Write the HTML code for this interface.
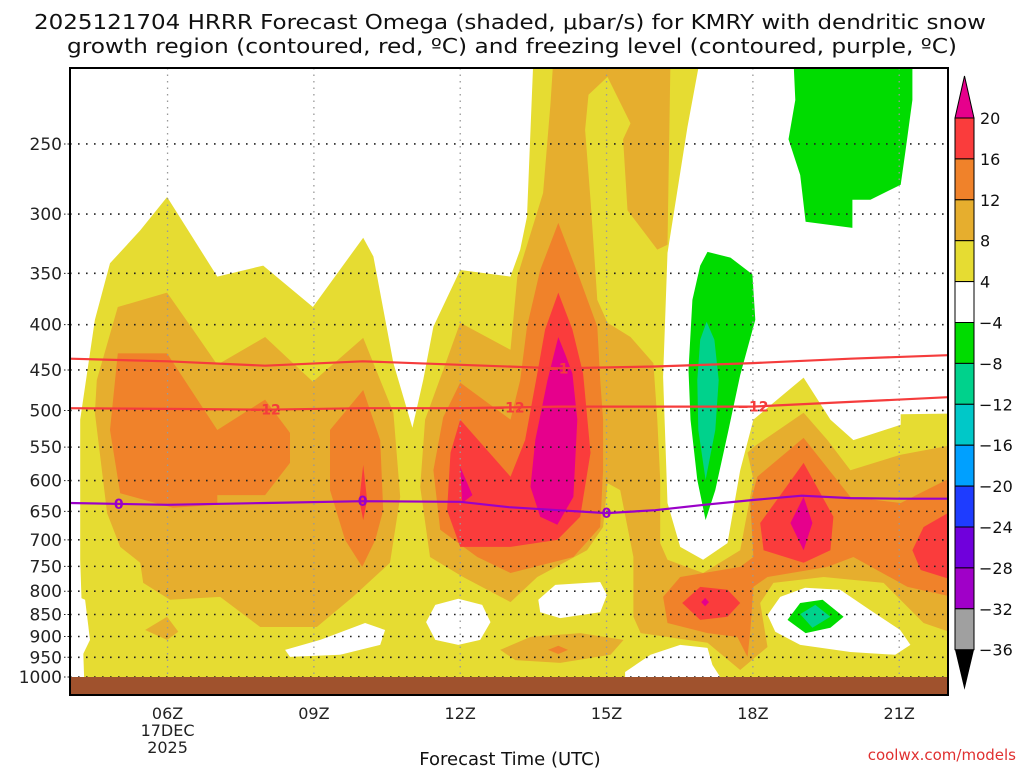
<!DOCTYPE html>
<html><head><meta charset="utf-8"><style>
html,body{margin:0;padding:0;background:#fff;}
svg{display:block;font-family:"DejaVu Sans","Liberation Sans",sans-serif;}
</style></head><body>
<svg id="chart" width="1024" height="768" viewBox="0 0 1024 768" xmlns="http://www.w3.org/2000/svg">
<defs><clipPath id="plotclip"><rect x="70" y="68" width="878" height="609"/></clipPath></defs>
<text x="510" y="29" font-size="20" text-anchor="middle" textLength="952" lengthAdjust="spacingAndGlyphs" fill="#111">2025121704 HRRR Forecast Omega (shaded, μbar/s) for KMRY with dendritic snow</text>
<text x="512" y="53" font-size="20" text-anchor="middle" textLength="890" lengthAdjust="spacingAndGlyphs" fill="#111">growth region (contoured, red, ºC) and freezing level (contoured, purple, ºC)</text>
<g id="fills" clip-path="url(#plotclip)"></g>
<g id="grid"></g>
<g id="lines" clip-path="url(#plotclip)"></g>
<rect x="70" y="677" width="878" height="17" fill="#a0522d"/>
<rect x="70" y="68" width="878" height="627" fill="none" stroke="#000" stroke-width="2"/>
<g id="yaxis"></g>
<g id="xaxis"></g>
<text x="510" y="765" font-size="18" text-anchor="middle" fill="#111">Forecast Time (UTC)</text>
<text x="1016" y="760" font-size="15" text-anchor="end" fill="#e03030">coolwx.com/models</text>
<g id="cbar"></g>
</svg>
<script>
const NS="http://www.w3.org/2000/svg";
// axes: hours 4..22, pressure log 1000..206
const hourMin=4, hourMax=22, pBottom=1000;
const yTicks=[250,300,350,400,450,500,550,600,650,700,750,800,850,900,950,1000];
const xTickHours=[6,9,12,15,18,21];
const xTickLabels=["06Z","09Z","12Z","15Z","18Z","21Z"];
const cbLevels=["20","16","12","8","4","−4","−8","−12","−16","−20","−24","−28","−32","−36"];
const cbColors=["#fa3c3c","#f0822a","#e6ae2e","#e6dc32","#ffffff","#00dc00","#00d28c","#00c8c8","#00a0ff","#1e3cff","#7000dc","#a000c8","#a0a0a0"];
const C={y:"#e6dc32",w:"#ffffff",lo:"#e6ae2e",do:"#f0822a",r:"#fa3c3c",m:"#e6008c",g:"#00dc00",t:"#00d28c",c:"#00c8c8"};
// shaded regions: [hour, hPa]
const yellowBase=[[4.29,1000],[4.21,737],[4.21,512],[4.51,395],[4.82,341],[5.44,313],[5.99,287],[7.02,353],[7.96,343],[8.98,382],[10.01,319],[10.22,335],[10.63,442],[11.02,523],[11.24,462],[11.45,402],[12.0,347],[13.03,353],[13.23,329],[13.37,302],[13.5,200],[16.92,200],[16.66,239],[16.25,332],[16.16,458],[16.25,636],[16.51,713],[16.98,737],[17.48,706],[17.74,584],[18.01,512],[19.04,459],[19.59,512],[20.06,540],[21.03,519],[21.03,505],[22.1,504],[22.1,1000]];
const whiteHoles=[
 [[8.41,932],[9.13,908],[10.05,869],[10.46,885],[10.36,920],[9.54,944],[8.51,949]],
 [[11.3,867],[11.49,829],[11.96,816],[12.45,829],[12.62,867],[12.41,908],[11.96,920],[11.49,908]],
 [[13.6,818],[13.95,787],[14.87,781],[15.01,808],[14.87,845],[14.05,858],[13.64,845]],
 [[15.38,987],[15.9,944],[16.51,920],[17.07,927],[17.17,969],[17.33,1000],[15.38,1000]],
 [[18.3,851],[18.56,812],[19.07,793],[19.79,797],[20.4,840],[21.02,885],[21.23,920],[20.92,944],[20.0,937],[18.97,920],[18.46,889]],
 [[3.9,800],[4.31,818],[4.41,908],[4.21,957],[3.9,962]]
];
const lightOrange=[
 [[4.51,503],[4.55,462],[4.98,382],[5.99,368],[6.52,405],[7.02,444],[8.0,413],[8.98,464],[10.01,414],[10.63,503],[10.77,626],[10.56,743],[9.8,812],[9.06,878],[7.9,878],[7.08,812],[6.05,818],[5.5,783],[5.44,743],[5.03,713],[4.76,653]],
 [[5.54,885],[5.99,855],[6.22,889],[5.99,908]],
 [[13.91,200],[16.31,200],[16.25,325],[16.04,329],[15.43,297],[15.34,247],[15.49,237],[15.02,210],[14.63,220],[14.56,241],[14.67,289],[14.81,375],[15.02,398],[15.49,413],[15.96,442],[16.04,512],[16.1,599],[16.1,706],[16.25,737],[16.98,763],[17.74,719],[18.01,599],[17.89,558],[18.01,550],[19.04,503],[19.53,540],[20.0,584],[21.03,561],[22.1,547],[22.1,892],[21.5,869],[20.68,783],[19.45,771],[18.42,783],[18.15,825],[18.3,925],[17.74,982],[17.07,915],[15.7,892],[15.55,855],[15.55,732],[15.28,615],[15.02,604],[14.93,677],[14.6,719],[13.58,771],[13.03,823],[12.06,771],[11.38,732],[11.18,610],[11.28,512],[11.65,450],[12.0,398],[13.03,427],[13.17,353],[13.7,284],[13.85,225]],
 [[12.82,932],[13.44,901],[14.46,892],[15.35,908],[15.08,944],[14.05,964],[13.13,957]]
];
const darkOrange=[
 [[4.98,431],[5.99,431],[7.02,526],[8.0,486],[8.51,530],[8.51,573],[8.0,623],[7.02,623],[7.02,639],[6.11,644],[5.03,620],[4.82,526]],
 [[10.01,474],[10.36,540],[10.42,648],[10.26,700],[9.99,751],[9.64,700],[9.33,615],[9.33,526]],
 [[14.01,307],[14.46,356],[14.81,402],[14.87,462],[14.93,512],[14.93,584],[14.87,677],[14.32,732],[13.03,763],[12.35,732],[11.59,682],[11.45,584],[11.65,509],[12.0,465],[13.03,512],[13.23,462],[13.37,402],[13.64,347]],
 [[19.04,537],[20.0,626],[21.03,636],[22.1,594],[22.1,812],[21.17,791],[20.06,732],[19.53,751],[18.3,771],[18.01,791],[17.95,885],[17.89,949],[17.68,901],[17.07,892],[16.25,869],[16.16,812],[16.51,771],[17.74,751],[18.01,732],[17.95,636],[18.09,594]],
 [[13.8,932],[14.01,922],[14.21,932],[14.01,942]]
];
const redAreas=[
 [[14.01,368],[14.3,405],[14.52,454],[14.67,558],[14.46,659],[13.99,700],[13.03,713],[12.0,713],[11.73,648],[11.8,558],[12.0,512],[13.03,594],[13.33,540],[13.58,454],[13.74,405]],
 [[10.01,576],[10.09,631],[10.01,665],[9.93,631]],
 [[19.04,573],[19.65,659],[19.59,719],[19.04,743],[18.22,719],[18.15,670]],
 [[22.1,648],[21.5,677],[21.27,719],[21.44,757],[22.1,777]],
 [[16.55,825],[16.92,791],[17.48,797],[17.74,825],[17.48,855],[16.92,862]]
];
const magentaAreas=[
 [[14.01,413],[14.16,433],[14.3,454],[14.4,512],[14.32,626],[13.99,673],[13.64,659],[13.44,610],[13.54,540],[13.79,462]],
 [[12.0,579],[12.25,623],[12.04,636]],
 [[19.04,626],[19.22,670],[19.04,719],[18.77,670]],
 [[16.94,823],[17.02,814],[17.1,823],[17.02,832]]
];
const greenAreas=[
 [[18.83,200],[21.27,200],[21.27,223],[21.13,254],[21.03,278],[20.41,289],[20.04,289],[20.04,311],[19.08,306],[18.97,271],[18.73,247],[18.87,223]],
 [[17.07,331],[17.54,336],[17.99,351],[18.05,395],[17.74,456],[17.5,526],[17.23,615],[17.03,665],[16.86,599],[16.72,512],[16.68,450],[16.76,375],[16.92,343]],
 [[18.71,862],[18.97,825],[19.43,818],[19.86,855],[19.59,880],[19.08,892]]
];
const tealAreas=[
 [[17.05,397],[17.21,416],[17.3,462],[17.23,526],[17.03,599],[16.88,526],[16.86,462],[16.92,416]],
 [[18.97,849],[19.28,829],[19.59,855],[19.22,880]]
];
// contour lines
const lineHours=[4,6,8,10,12,14,16,18,20,22];
const dgzTopP=[437,440,445,440,444,448,446,442,437,433];
const dgzM12P=[497,498,499,497,497,495,495,495,489,483];
const frzHours=[4,6,8,10,12,13,14,15,16,17,18,19,20,21,22];
const frzP=[636,639,636,633,634,643,648,653,648,639,631,624,628,629,629];
const frzLabelHours=[5,10,15];
const m12LabelHours=[8,13,18];

const xS=h=>70+(h-hourMin)*(878/(hourMax-hourMin));
const yS=p=>677-Math.log(pBottom/p)*384.5;

function poly(g,pts,fill,name){
 const e=document.createElementNS(NS,"polygon");
 e.setAttribute("points",pts.map(q=>xS(q[0]).toFixed(1)+","+yS(q[1]).toFixed(1)).join(" "));
 e.setAttribute("fill",fill);
 
 
 g.appendChild(e);
}
const F=document.getElementById("fills");
poly(F,yellowBase,C.y,"omega-4-8-region");
whiteHoles.forEach(p=>poly(F,p,C.w,"omega-weak-region"));
lightOrange.forEach(p=>poly(F,p,C.lo,"omega-8-12-region"));
darkOrange.forEach(p=>poly(F,p,C.do,"omega-12-16-region"));
redAreas.forEach(p=>poly(F,p,C.r,"omega-16-20-region"));
magentaAreas.forEach(p=>poly(F,p,C.m,"omega-over-20-region"));
greenAreas.forEach(p=>poly(F,p,C.g,"omega-neg4-neg8-region"));
tealAreas.forEach(p=>poly(F,p,C.t,"omega-neg8-neg12-region"));

// grid
const G=document.getElementById("grid");
yTicks.forEach(p=>{
 const l=document.createElementNS(NS,"line");
 l.setAttribute("x1",70);l.setAttribute("x2",948);l.setAttribute("y1",yS(p));l.setAttribute("y2",yS(p));
 l.setAttribute("stroke","#222");l.setAttribute("stroke-width","1.6");l.setAttribute("stroke-dasharray","1.6 6.4");
 
 
 G.appendChild(l);
});
xTickHours.forEach(h=>{
 const l=document.createElementNS(NS,"line");
 l.setAttribute("x1",xS(h));l.setAttribute("x2",xS(h));l.setAttribute("y1",68);l.setAttribute("y2",677);
 l.setAttribute("stroke","#999");l.setAttribute("stroke-width","1.3");l.setAttribute("stroke-dasharray","1.5 5");
 
 
 G.appendChild(l);
});
// lines
const L=document.getElementById("lines");
function pl(xs,ps,col,name){
 const e=document.createElementNS(NS,"polyline");
 e.setAttribute("points",xs.map((h,i)=>xS(h).toFixed(1)+","+yS(ps[i]).toFixed(1)).join(" "));
 e.setAttribute("fill","none");e.setAttribute("stroke",col);e.setAttribute("stroke-width","2.2");
 
 
 L.appendChild(e);
}
function interp(xs,ps,h){for(let i=0;i<xs.length-1;i++){if(h>=xs[i]&&h<=xs[i+1]){const t=(h-xs[i])/(xs[i+1]-xs[i]);return ps[i]*(1-t)+ps[i+1]*t;}}return ps[ps.length-1];}
function lab(txt,h,p,col,name,w){
 const x=xS(h),y=yS(p);
 const r=document.createElementNS(NS,"rect");
 r.setAttribute("x",x-w/2);r.setAttribute("y",y-3);r.setAttribute("width",w);r.setAttribute("height",6);
 r.setAttribute("fill","#ffffff");r.setAttribute("opacity","0");
 L.appendChild(r);
 const t=document.createElementNS(NS,"text");
 t.setAttribute("x",x);t.setAttribute("y",y+5);t.setAttribute("text-anchor","middle");
 t.setAttribute("font-size","14");t.setAttribute("font-weight","bold");t.setAttribute("fill",col);
 t.textContent=txt;
 
 
 L.appendChild(t);
}
pl(lineHours,dgzTopP,"#f53c3c","dgz-upper-contour");
pl(lineHours,dgzM12P,"#f53c3c","dgz-minus12-contour");
pl(frzHours,frzP,"#9a00c8","freezing-level-contour");
frzLabelHours.forEach(h=>lab("0",h,interp(frzHours,frzP,h),"#9a00c8","freezing-level-label",10));
m12LabelHours.forEach(h=>lab("−12",h,interp(lineHours,dgzM12P,h),"#f53c3c","minus12-label",26));
lab("−1",14,interp(lineHours,dgzTopP,14),"#f53c3c","dgz-upper-label",18);

// y axis
const YA=document.getElementById("yaxis");
yTicks.forEach(p=>{
 const t=document.createElementNS(NS,"text");
 t.setAttribute("x",62);t.setAttribute("y",yS(p)+6);t.setAttribute("text-anchor","end");
 t.setAttribute("font-size","17");t.setAttribute("fill","#222");
 t.textContent=String(p);
 
 
 YA.appendChild(t);
 const k=document.createElementNS(NS,"line");
 k.setAttribute("x1",64);k.setAttribute("x2",70);k.setAttribute("y1",yS(p));k.setAttribute("y2",yS(p));
 k.setAttribute("stroke","#222");k.setAttribute("stroke-width","1");k.setAttribute("stroke-dasharray","1.5 2");
 YA.appendChild(k);
});
// x axis
const XA=document.getElementById("xaxis");
xTickHours.forEach((h,i)=>{
 const t=document.createElementNS(NS,"text");
 t.setAttribute("x",xS(h));t.setAttribute("y",719);t.setAttribute("text-anchor","middle");
 t.setAttribute("font-size","16");t.setAttribute("fill","#222");
 t.textContent=xTickLabels[i];
 
 
 XA.appendChild(t);
});
[["17DEC",736],["2025",753]].forEach(d=>{
 const t=document.createElementNS(NS,"text");
 t.setAttribute("x",xS(6));t.setAttribute("y",d[1]);t.setAttribute("text-anchor","middle");
 t.setAttribute("font-size","16");t.setAttribute("fill","#222");t.textContent=d[0];
 
 
 XA.appendChild(t);
});
// colorbar
const CB=document.getElementById("cbar");
const cbX=955,cbW=19,cbTop=118,cbStep=40.9;
const tri1=document.createElementNS(NS,"polygon");
tri1.setAttribute("points",`${cbX},${cbTop} ${cbX+cbW},${cbTop} ${cbX+cbW/2},76`);
tri1.setAttribute("fill",C.m);tri1.setAttribute("stroke","#000");


CB.appendChild(tri1);
cbColors.forEach((c,i)=>{
 const r=document.createElementNS(NS,"rect");
 r.setAttribute("x",cbX);r.setAttribute("y",cbTop+i*cbStep);r.setAttribute("width",cbW);r.setAttribute("height",cbStep);
 r.setAttribute("fill",c);r.setAttribute("stroke","#000");r.setAttribute("stroke-width","1");
 
 
 CB.appendChild(r);
});
const cbBot=cbTop+cbColors.length*cbStep;
const tri2=document.createElementNS(NS,"polygon");
tri2.setAttribute("points",`${cbX},${cbBot} ${cbX+cbW},${cbBot} ${cbX+cbW/2},${cbBot+40}`);
tri2.setAttribute("fill","#000");


CB.appendChild(tri2);
cbLevels.forEach((s,i)=>{
 const t=document.createElementNS(NS,"text");
 t.setAttribute("x",s.startsWith("−")?979:980);t.setAttribute("y",cbTop+i*cbStep+6);
 t.setAttribute("font-size","16");t.setAttribute("fill","#111");t.textContent=s;
 
 
 CB.appendChild(t);
});
</script>
</body></html>
